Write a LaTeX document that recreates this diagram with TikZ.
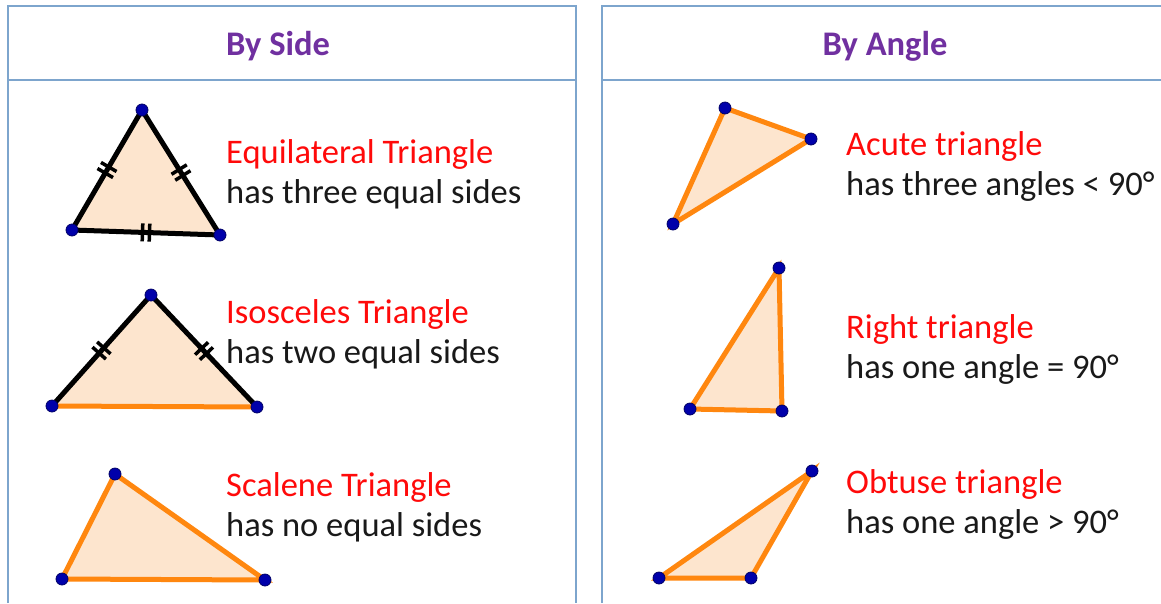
\documentclass[tikz,border=0pt]{standalone}
\usepackage{fontspec}
\setmainfont{Carlito}
\usetikzlibrary{calc}
\definecolor{framec}{RGB}{125,165,205}
\definecolor{hdr}{RGB}{112,48,160}
\definecolor{peach}{RGB}{253,229,206}
\definecolor{org}{RGB}{255,135,15}
\definecolor{dotblue}{RGB}{0,0,170}
\definecolor{txtred}{RGB}{255,10,10}
\newcommand\dtick[2]{%
  \coordinate (tm) at ($(#1)!0.5!(#2)$);
  \foreach \s in {-3.5pt,3.5pt} {
    \coordinate (tc) at ($(tm)!\s!(#2)$);
    \draw[tickline] ($(tc)!9pt!90:(#2)$) -- ($(tc)!9pt!-90:(#2)$);
  }}
\begin{document}
\begin{tikzpicture}[x=1pt,y=-1pt,
  framel/.style={draw=framec,line width=1.5pt},
  hdrtext/.style={text=hdr,font=\fontsize{34.5}{40}\selectfont\bfseries,anchor=base},
  title/.style={text=txtred,font=\fontsize{34.5}{40}\selectfont,anchor=base west,inner sep=0},
  desc/.style={text=black!90,font=\fontsize{34.5}{40}\selectfont,anchor=base west,inner sep=0},
  tri/.style={fill=peach},
  oedge/.style={draw=org,line width=5pt,line cap=round},
  bedge/.style={draw=black,line width=5pt,line cap=round},
  tickline/.style={draw=black,line width=3.5pt},
  vdot/.style={circle,fill=dotblue,draw=black!60!blue,line width=0.8pt,inner sep=0pt,minimum size=12pt}]
\useasboundingbox (0,0) rectangle (1161,603);
\fill[white] (0,0) rectangle (1161,603);
% frames
\draw[framel] (8,603) -- (8,6) -- (576,6) -- (576,603);
\draw[framel] (8,80) -- (576,80);
\draw[framel] (602,603) -- (602,6) -- (1170,6);
\draw[framel] (602,80) -- (1170,80);
\node[hdrtext] (h1) at (278,55) {By Side};
\node[hdrtext] (h2) at (885,55) {By Angle};
% equilateral
\coordinate (e1) at (142,110); \coordinate (e2) at (72,230); \coordinate (e3) at (220,235);
\fill[tri] (e1) -- (e2) -- (e3) -- cycle;
\draw[bedge] (e1) -- (e2) -- (e3) -- cycle;
\dtick{e1}{e2}\dtick{e1}{e3}\dtick{e2}{e3}
\foreach \p in {e1,e2,e3} \node[vdot] at (\p) {};
% isosceles
\coordinate (i1) at (151,295); \coordinate (i2) at (52,406); \coordinate (i3) at (257,407);
\fill[tri] (i1) -- (i2) -- (i3) -- cycle;
\draw[oedge] (i2) -- (i3);
\draw[bedge] (i2) -- (i1) -- (i3);
\dtick{i1}{i2}\dtick{i1}{i3}
\foreach \p in {i1,i2,i3} \node[vdot] at (\p) {};
% scalene
\coordinate (s1) at (115,474); \coordinate (s2) at (62,579); \coordinate (s3) at (265,580);
\fill[tri] (s1) -- (s2) -- (s3) -- cycle;
\draw[oedge] (s1) -- (s2) -- (s3) -- cycle;
\foreach \p in {s1,s2,s3} \node[vdot] at (\p) {};
% acute
\coordinate (a1) at (725,108); \coordinate (a2) at (811,139); \coordinate (a3) at (673,224);
\fill[tri] (a1) -- (a2) -- (a3) -- cycle;
\draw[oedge] (a1) -- (a2) -- (a3) -- cycle;
\foreach \p in {a1,a2,a3} \node[vdot] at (\p) {};
% right
\coordinate (r1) at (779,268); \coordinate (r2) at (690,409); \coordinate (r3) at (782,411);
\fill[tri] (r1) -- (r2) -- (r3) -- cycle;
\draw[oedge] (r1) -- (r2) -- (r3) -- cycle;
\foreach \p in {r1,r2,r3} \node[vdot] at (\p) {};
% obtuse
\coordinate (o1) at (812,471); \coordinate (o2) at (659,578); \coordinate (o3) at (751,578);
\fill[tri] (o1) -- (o2) -- (o3) -- cycle;
\draw[oedge] (o1) -- (o2) -- (o3) -- cycle;
\foreach \p in {o1,o2,o3} \node[vdot] at (\p) {};
% texts
\node[title] (t1) at (226,163) {Equilateral Triangle};
\node[desc] (d1) at (226,203) {has three equal sides};
\node[title] (t2) at (226,323) {Isosceles Triangle};
\node[desc] (d2) at (226,363) {has two equal sides};
\node[title] (t3) at (226,496) {Scalene Triangle};
\node[desc] (d3) at (226,536) {has no equal sides};
\node[title] (t4) at (846,155) {Acute triangle};
\node[desc] (d4) at (846,195) {has three angles < 90°};
\node[title] (t5) at (846,338) {Right triangle};
\node[desc] (d5) at (846,378) {has one angle = 90°};
\node[title] (t6) at (846,493) {Obtuse triangle};
\node[desc] (d6) at (846,533) {has one angle > 90°};
\end{tikzpicture}
\end{document}
